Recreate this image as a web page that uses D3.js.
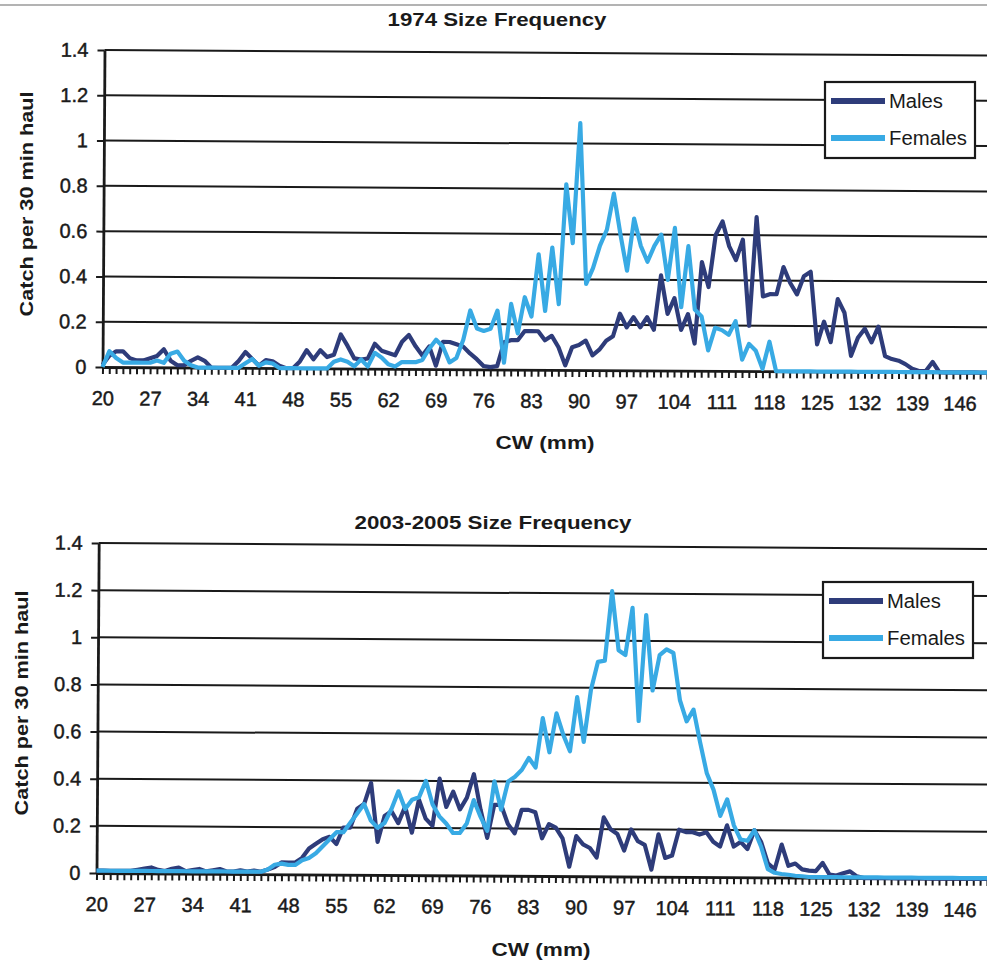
<!DOCTYPE html>
<html>
<head>
<meta charset="utf-8">
<script src="https://cdn.jsdelivr.net/npm/d3@7"></script>
<style>
  html, body { margin: 0; padding: 0; background: #fff; }
  svg { display: block; }
  text { font-family: "Liberation Sans", Arial, sans-serif; fill: #1a1a1a; }
</style>
</head>
<body>
<svg id="chart" width="987" height="964"></svg>
<script>
// Carapace width classes (mm)
const categories = d3.range(20, 151);
const xTickLabels = ["20","27","34","41","48","55","62","69","76","83","90","97","104","111","118","125","132","139","146"];
const yTicks = [0, 0.2, 0.4, 0.6, 0.8, 1.0, 1.2, 1.4];
const yTickLabels = ["0","0.2","0.4","0.6","0.8","1","1.2","1.4"];
const seriesNames = ["Males", "Females"];

// 1974 catch per 30 min haul, by CW class 20..150
const males1974 = [
  0.01,0.05,0.07,0.07,0.04,0.03,0.03,0.04,0.05,0.08,
  0.03,0.01,0.01,0.03,0.045,0.03,0,0,0,0,
  0.03,0.07,0.04,0.01,0.035,0.03,0.01,0,0,0.03,
  0.08,0.04,0.08,0.05,0.06,0.15,0.1,0.045,0.04,0.045,
  0.11,0.08,0.07,0.06,0.12,0.15,0.1,0.06,0.1,0.015,
  0.12,0.12,0.11,0.1,0.07,0.045,0.015,0.01,0.015,0.12,
  0.13,0.13,0.17,0.17,0.17,0.13,0.15,0.1,0.02,0.1,
  0.11,0.13,0.065,0.09,0.13,0.15,0.25,0.19,0.235,0.19,
  0.235,0.18,0.42,0.25,0.32,0.18,0.25,0.12,0.48,0.37,
  0.6,0.66,0.55,0.49,0.58,0.2,0.68,0.33,0.34,0.34,
  0.46,0.39,0.34,0.42,0.44,0.12,0.22,0.13,0.32,0.26,
  0.07,0.15,0.19,0.13,0.2,0.07,0.057,0.05,0.035,0.015,
  0.005,0.005,0.045,0,0,0,0,0,0,0,
  0
];
const females1974 = [
  0,0.07,0.04,0.02,0.02,0.02,0.02,0.02,0.03,0.02,
  0.06,0.07,0.03,0.01,0,0,0,0,0,0,
  0,0.02,0.04,0.01,0.025,0.02,0,0,0,0,
  0,0,0,0,0.03,0.04,0.03,0.01,0.04,0.01,
  0.07,0.05,0.02,0.01,0.03,0.03,0.03,0.04,0.09,0.13,
  0.1,0.03,0.05,0.13,0.26,0.18,0.17,0.18,0.26,0.03,
  0.29,0.16,0.32,0.235,0.51,0.26,0.54,0.29,0.82,0.56,
  1.09,0.38,0.45,0.55,0.62,0.78,0.6,0.44,0.67,0.55,
  0.48,0.55,0.6,0.4,0.63,0.28,0.55,0.27,0.24,0.09,
  0.19,0.18,0.16,0.22,0.05,0.12,0.09,0.01,0.13,0,
  0,0,0,0,0,0,0,0,0,0,
  0,0,0,0,0,0,0,0,0,0,
  0,0,0,0,0,0,0,0,0,0,
  0
];

// 2003-2005 catch per 30 min haul, by CW class 20..150
const males2003 = [
  0.01,0.01,0.01,0.01,0.01,0.01,0.015,0.02,0.025,0.015,
  0.01,0.02,0.025,0.01,0.015,0.02,0.01,0.015,0.02,0.01,
  0.01,0.015,0.01,0.015,0.01,0.02,0.03,0.05,0.05,0.05,
  0.07,0.11,0.13,0.15,0.16,0.13,0.2,0.2,0.28,0.3,
  0.39,0.14,0.25,0.27,0.22,0.29,0.18,0.32,0.24,0.21,
  0.41,0.29,0.355,0.28,0.33,0.43,0.28,0.16,0.3,0.3,
  0.22,0.18,0.28,0.28,0.27,0.16,0.22,0.205,0.16,0.04,
  0.17,0.135,0.12,0.08,0.25,0.2,0.18,0.11,0.2,0.15,
  0.135,0.03,0.18,0.08,0.09,0.2,0.19,0.19,0.18,0.19,
  0.15,0.13,0.22,0.13,0.15,0.12,0.2,0.15,0.06,0.035,
  0.14,0.05,0.06,0.035,0.03,0.028,0.063,0.014,0.01,0.02,
  0.028,0.007,0,0,0,0,0,0,0,0,
  0,0,0,0,0,0,0,0,0,0,
  0
];
const females2003 = [
  0.01,0.01,0.01,0.01,0.01,0.01,0.01,0.01,0.01,0.01,
  0.01,0.01,0.01,0.01,0.01,0.01,0.01,0.01,0.01,0.01,
  0.01,0.01,0.01,0.01,0.01,0.02,0.04,0.045,0.04,0.04,
  0.06,0.07,0.09,0.12,0.15,0.18,0.18,0.22,0.26,0.3,
  0.23,0.2,0.22,0.28,0.355,0.28,0.32,0.33,0.4,0.3,
  0.25,0.22,0.18,0.18,0.22,0.32,0.25,0.19,0.4,0.28,
  0.4,0.42,0.45,0.5,0.46,0.67,0.525,0.69,0.6,0.53,
  0.76,0.57,0.79,0.91,0.915,1.21,0.96,0.94,1.14,0.66,
  1.11,0.79,0.94,0.965,0.95,0.75,0.66,0.71,0.57,0.44,
  0.37,0.26,0.33,0.22,0.16,0.155,0.2,0.13,0.035,0.02,
  0.015,0.012,0.008,0.006,0.003,0.003,0.003,0.003,0.003,0.003,
  0.003,0.003,0.003,0.003,0.003,0.003,0.003,0.003,0.003,0.003,
  0.003,0.003,0.003,0.003,0.003,0.003,0.003,0.003,0.003,0.003,
  0.003
];

const colors = { Males: "#2e3c7a", Females: "#38aae4" };
const ink = "#1a1a1a";
const svg = d3.select("#chart");

// thin page edge line along the top
svg.append("line").attr("x1", 0).attr("x2", 987).attr("y1", 5).attr("y2", 5)
  .attr("stroke", "#9a9a9a").attr("stroke-width", 1.5);

function styleTickText(sel) {
  sel.attr("font-size", 20).attr("fill", ink)
    .attr("stroke", ink).attr("stroke-width", 0.45)
    .style("font-family", "'Liberation Sans', Arial, sans-serif");
}

function drawPanel(p) {
  const x = d3.scaleLinear().domain([20, 150]).range([p.left, 987]);
  const y = d3.scaleLinear().domain([0, 1.4]).range([p.bottom, p.top]);

  // the printed plot sits slightly skewed on the page
  const g = svg.append("g")
    .attr("transform", `rotate(${p.angle} ${p.left} ${p.bottom})`);

  // horizontal gridlines
  g.append("g").selectAll("line").data(yTicks.slice(1)).join("line")
    .attr("x1", p.left).attr("x2", 995)
    .attr("y1", d => y(d)).attr("y2", d => y(d))
    .attr("stroke", ink).attr("stroke-width", 2);

  // value axis
  const ya = g.append("g").attr("transform", `translate(${p.left},0)`)
    .call(d3.axisLeft(y).tickValues(yTicks)
      .tickFormat((d, i) => yTickLabels[i]).tickSize(7).tickSizeOuter(0).tickPadding(9));
  ya.select(".domain").attr("stroke", ink).attr("stroke-width", 2.8);
  ya.selectAll(".tick line").attr("stroke", ink).attr("stroke-width", 2);
  styleTickText(ya.selectAll("text"));

  // category axis with a tick at every class
  const xa = g.append("g").attr("transform", `translate(0,${p.bottom})`)
    .call(d3.axisBottom(x).tickValues(categories)
      .tickFormat(d => xTickLabels.includes(String(d)) ? String(d) : "")
      .tickSize(7).tickSizeOuter(0).tickPadding(17));
  xa.select(".domain").attr("stroke", ink).attr("stroke-width", 2.8);
  xa.selectAll(".tick line").attr("stroke", ink).attr("stroke-width", 2);
  styleTickText(xa.selectAll("text"));

  // series lines
  const line = d3.line().x((d, i) => x(categories[i])).y(d => y(d));
  [["Males", p.males], ["Females", p.females]].forEach(([name, vals]) => {
    g.append("path").datum(vals)
      .attr("d", line)
      .attr("fill", "none")
      .attr("stroke", colors[name])
      .attr("stroke-width", 4.2)
      .attr("stroke-linejoin", "round");
  });

  // chart title
  svg.append("text").attr("x", p.titleX).attr("y", p.titleY)
    .attr("text-anchor", "middle").attr("font-size", 19).attr("font-weight", "bold")
    .attr("textLength", p.titleLen).attr("lengthAdjust", "spacingAndGlyphs")
    .text(p.title);

  // axis titles
  svg.append("text")
    .attr("transform", `translate(${p.yTitleX},${p.yTitleY}) rotate(-90)`)
    .attr("text-anchor", "middle").attr("font-size", 19).attr("font-weight", "bold")
    .attr("textLength", 225).attr("lengthAdjust", "spacingAndGlyphs")
    .text("Catch per 30 min haul");
  svg.append("text").attr("x", p.cwX).attr("y", p.cwY)
    .attr("text-anchor", "middle").attr("font-size", 19).attr("font-weight", "bold")
    .attr("textLength", 99).attr("lengthAdjust", "spacingAndGlyphs")
    .text("CW (mm)");

  // legend
  const lg = svg.append("g");
  lg.append("rect").attr("x", p.legX).attr("y", p.legY).attr("width", 150).attr("height", 76)
    .attr("fill", "#fff").attr("stroke", ink).attr("stroke-width", 2.2);
  seriesNames.forEach((name, i) => {
    const ly = p.legY + 19 + i * 37;
    lg.append("line").attr("x1", p.legX + 6).attr("x2", p.legX + 60)
      .attr("y1", ly).attr("y2", ly)
      .attr("stroke", colors[name]).attr("stroke-width", 6);
    lg.append("text").attr("x", p.legX + 64).attr("y", ly + 7)
      .attr("font-size", 20)
      .attr("textLength", name === "Males" ? 54 : 78).attr("lengthAdjust", "spacingAndGlyphs")
      .text(name);
  });
}

drawPanel({
  title: "1974 Size Frequency", males: males1974, females: females1974,
  left: 102.5, bottom: 367, top: 50, angle: 0.36,
  titleX: 497, titleY: 26, titleLen: 219,
  yTitleX: 33, yTitleY: 204, cwX: 545, cwY: 449,
  legX: 825, legY: 82
});
drawPanel({
  title: "2003-2005 Size Frequency", males: males2003, females: females2003,
  left: 96.5, bottom: 873, top: 543, angle: 0.38,
  titleX: 493, titleY: 529, titleLen: 277,
  yTitleX: 28, yTitleY: 703, cwX: 541, cwY: 956,
  legX: 823, legY: 582
});
</script>
</body>
</html>
